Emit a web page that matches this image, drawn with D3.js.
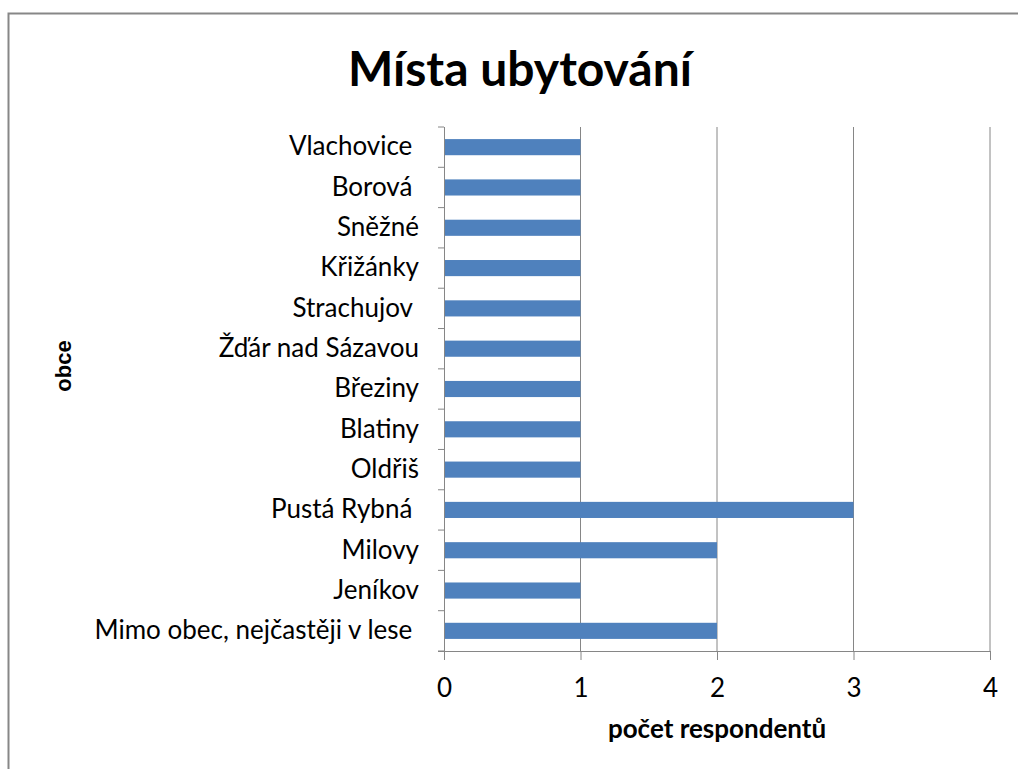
<!DOCTYPE html>
<html>
<head>
<meta charset="utf-8">
<script src="https://cdn.jsdelivr.net/npm/d3@7"></script>
<style>
  body { margin: 0; background: #fff; }
  text { font-family: Lato, "Open Sans", sans-serif; fill: #000; }
</style>
</head>
<body>
<svg id="chart" width="1018" height="769"></svg>
<script>
// categories top to bottom, as they appear in the chart
const obce = [
  "Vlachovice ", "Borová ", "Sněžné", "Křižánky", "Strachujov ",
  "Žďár nad Sázavou", "Březiny", "Blatiny", "Oldřiš", "Pustá Rybná ",
  "Milovy", "Jeníkov", "Mimo obec, nejčastěji v lese "
];
const pocet = [1, 1, 1, 1, 1, 1, 1, 1, 1, 3, 2, 1, 2];
const xTicks = [0, 1, 2, 3, 4];

const data = obce.map((d, i) => ({ name: d, value: pocet[i] }));

const svg = d3.select("#chart");
const plotLeft = 444, plotRight = 990, plotTop = 127, plotBottom = 651;

// outer chart border
svg.append("rect")
  .attr("x", 8.5).attr("y", 13.5)
  .attr("width", 1020).attr("height", 800)
  .attr("fill", "none").attr("stroke", "#878787").attr("stroke-width", 2);

const x = d3.scaleLinear().domain([0, 4]).range([plotLeft, plotRight]);
const y = d3.scaleBand().domain(obce).range([plotTop, plotBottom]).paddingInner(0.6).paddingOuter(0.3);

// gridlines
svg.append("g")
  .selectAll("line")
  .data(xTicks.slice(1))
  .join("line")
  .attr("x1", d => x(d)).attr("x2", d => x(d))
  .attr("y1", plotTop).attr("y2", plotBottom)
  .attr("stroke", "#868686").attr("stroke-width", 1);

// bars
svg.append("g")
  .selectAll("rect")
  .data(data)
  .join("rect")
  .attr("x", x(0))
  .attr("y", d => y(d.name))
  .attr("width", d => x(d.value) - x(0))
  .attr("height", y.bandwidth())
  .attr("fill", "#4F81BD");

// x axis
const xAxis = svg.append("g")
  .attr("transform", `translate(0,${plotBottom})`)
  .call(d3.axisBottom(x).tickValues(xTicks).tickSize(9).tickPadding(19).tickFormat(d3.format("d")));
xAxis.select(".domain").attr("stroke", "#868686").attr("d", `M${plotLeft - 6},0.5H${plotRight}`);
xAxis.selectAll(".tick line").attr("stroke", "#868686");
xAxis.selectAll(".tick text")
  .style("font-family", "Lato, sans-serif")
  .style("font-size", "26px").attr("fill", "#000");

// y axis: labels centered on bands, tick marks at band boundaries
const yAxis = svg.append("g")
  .attr("transform", `translate(${plotLeft},0)`)
  .call(d3.axisLeft(y).tickSize(0).tickPadding(25));
yAxis.select(".domain").attr("stroke", "#868686").attr("d", `M0.5,${plotTop}V${plotBottom}`);
yAxis.selectAll(".tick text")
  .attr("xml:space", "preserve")
  .style("white-space", "pre")
  .style("font-family", "Lato, sans-serif")
  .style("font-size", "26px");

const step = (plotBottom - plotTop) / obce.length;
yAxis.append("g")
  .selectAll("line")
  .data(d3.range(obce.length + 1))
  .join("line")
  .attr("x1", -6).attr("x2", 0)
  .attr("y1", i => plotTop + i * step).attr("y2", i => plotTop + i * step)
  .attr("stroke", "#868686");

// titles
svg.append("text")
  .attr("x", 520).attr("y", 86)
  .attr("text-anchor", "middle")
  .style("font-size", "48px").style("font-weight", "bold")
  .text("Místa ubytování");

svg.append("text")
  .attr("x", 717).attr("y", 738)
  .attr("text-anchor", "middle")
  .style("font-size", "26px").style("font-weight", "bold")
  .text("počet respondentů");

svg.append("text")
  .attr("transform", "translate(71,366) rotate(-90)")
  .attr("text-anchor", "middle")
  .style("font-family", "'Liberation Sans', Arial, sans-serif")
  .style("font-size", "22px").style("font-weight", "bold")
  .text("obce");
</script>
</body>
</html>
